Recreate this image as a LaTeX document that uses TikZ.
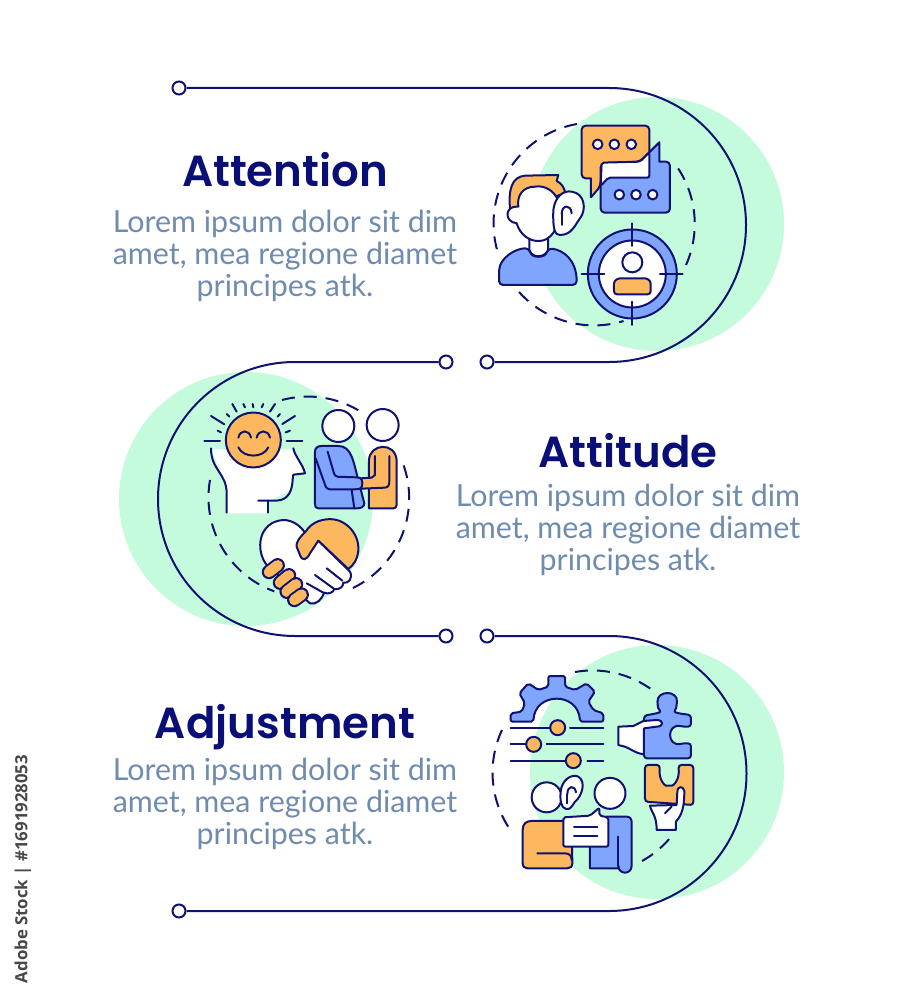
\documentclass[tikz,border=0pt]{standalone}
\usepackage{fontspec}
\setmainfont{Lato}
\newfontfamily\headfont{Poppins SemiBold}
\newfontfamily\stockfont{Open Sans}
\usetikzlibrary{calc}

\definecolor{navy}{HTML}{10126F}
\definecolor{headnavy}{HTML}{0A0F78}
\definecolor{mint}{HTML}{C4FBDD}
\definecolor{iconorange}{HTML}{FDB85F}
\definecolor{iconblue}{HTML}{7FA5FD}
\definecolor{bodygrey}{HTML}{6F8BAE}

\tikzset{
  heading/.style={font=\headfont\fontsize{43.5}{43.5}\selectfont,text=headnavy,anchor=base},
  bodytext/.style={font=\fontsize{30.4}{31.8}\selectfont,text=bodygrey,align=center,anchor=center},
  link/.style={draw=navy,line width=2pt},
  enddot/.style={circle,draw=navy,fill=white,line width=2pt,minimum size=13pt,inner sep=0pt},
  ring/.style={draw=navy,line width=2pt,dash pattern=on 13pt off 9pt},
  ico/.style={draw=navy,line width=2pt,line join=round,line cap=round},
  org/.style={ico,fill=iconorange},
  blu/.style={ico,fill=iconblue},
  wht/.style={ico,fill=white},
  zoomA/.style={shift={(480,110)},x=.3333pt,y=-.3333pt},
  zoomB/.style={shift={(195,390)},x=.3333pt,y=-.3333pt},
  zoomC/.style={shift={(490,665)},x=.3333pt,y=-.3333pt},
}

\begin{document}
\begin{tikzpicture}[x=1pt,y=-1pt]

\useasboundingbox (0,0) rectangle (914,1000);
\fill[white] (0,0) rectangle (914,1000);

% green discs
\fill[mint] (657,224) circle [radius=127pt];
\fill[mint] (246,499) circle [radius=127pt];
\fill[mint] (657,772) circle [radius=127pt];

% connector
\node[enddot] (start) at (179,88) {};
\node[enddot] (midA) at (446,362) {};
\node[enddot] (midB) at (487,362) {};
\node[enddot] (midC) at (446,636) {};
\node[enddot] (midD) at (487,636) {};
\node[enddot] (finish) at (179,911) {};
\coordinate (turnA) at (609,88);
\coordinate (turnB) at (295,362);
\coordinate (turnC) at (609,636);

\draw[link] (start.east) -- (turnA) arc [start angle=90,end angle=-90,radius=137pt] -- (midB.east);
\draw[link] (midA.west) -- (turnB) arc [start angle=90,end angle=270,radius=137pt] -- (midC.west);
\draw[link] (midD.east) -- (turnC) arc [start angle=90,end angle=-90,radius=137.5pt] -- (finish.east);

% texts
\node[heading] (titleA) at (285,187) {Attention};
\node[bodytext] (textA) at (285,256) {Lorem ipsum dolor sit dim\\amet, mea regione diamet\\principes atk.};
\node[heading] (titleB) at (628,467) {Attitude};
\node[bodytext] (textB) at (628,530) {Lorem ipsum dolor sit dim\\amet, mea regione diamet\\principes atk.};
\node[heading] (titleC) at (285,738) {Adjustment};
\node[bodytext] (textC) at (285,804) {Lorem ipsum dolor sit dim\\amet, mea regione diamet\\principes atk.};

\node[rotate=90,font=\stockfont\bfseries\fontsize{16.8}{16.8}\selectfont,text=black!72] (stock) at (23,869) {Adobe Stock | \#1691928053};

% dashed rings
\draw[ring] (577,124) arc [start angle=100,end angle=198,radius=101pt];
\draw[ring] (519,292) arc [start angle=222,end angle=287,radius=101pt];
\draw[ring] (686,265) arc [start angle=-24,end angle=36,radius=101pt];

\draw[ring] (282,400) arc [start angle=105,end angle=57,radius=100pt];
\draw[ring] (210,480) arc [start angle=170,end angle=250,radius=100pt];
\draw[ring] (353,588) arc [start angle=-64,end angle=20,radius=100pt];

\draw[ring] (575,672) arc [start angle=100,end angle=54,radius=101pt];
\draw[ring] (502,730) arc [start angle=155,end angle=214,radius=101pt];
\draw[ring] (642,861) arc [start angle=-61,end angle=-38,radius=101pt];

% listening and chat icon
\begin{scope}[zoomA]
\draw[org,rounded corners=4pt] (305,47) -- (508,47) -- (508,203) -- (362,203) -- (362,228) [sharp corners] -- (333,262) -- (333,205) [rounded corners=4pt] -- (305,205) -- cycle;
\draw[blu,rounded corners=4pt] (362,160) -- (480,155) [sharp corners] -- (538,97) -- (538,155) [rounded corners=4pt] -- (570,155) -- (570,308) -- (362,308) -- cycle;
\draw[wht,rounded corners=2pt] (365,158) -- (480,155) -- (508,127) -- (508,203) -- (385,203) -- (362,228) -- cycle;
\foreach \px in {353,403,454} \draw[wht] (\px,103) circle [radius=4.8pt];
\foreach \px in {418,468,518} \draw[wht] (\px,254) circle [radius=4.8pt];
\draw[org] (90,295) .. controls (85,240) and (95,200) .. (135,197) -- (235,195) -- (230,213) .. controls (245,220) and (255,235) .. (255,250) -- (100,300) -- cycle;
\draw[wht] (148,385) -- (148,420) .. controls (155,445) and (195,445) .. (204,420) -- (204,385) -- cycle;
\draw[blu,rounded corners=4pt] (57,525) -- (57,490) .. controls (60,445) and (105,415) .. (148,415) .. controls (155,445) and (195,445) .. (204,415) .. controls (250,420) and (290,450) .. (290,525) -- cycle;
\draw[wht] (115,290) .. controls (75,285) and (70,335) .. (110,340) .. controls (120,375) and (150,395) .. (178,393) .. controls (205,392) and (225,370) .. (232,340) -- (235,275) .. controls (225,240) and (190,225) .. (165,230) .. controls (130,230) and (110,255) .. (115,290) -- cycle;
\draw[wht] (220,300) .. controls (225,260) and (250,240) .. (275,245) .. controls (315,250) and (320,300) .. (300,325) .. controls (285,345) and (275,375) .. (240,375) .. controls (225,375) and (218,360) .. (220,300) -- cycle;
\draw[ico] (245,312) .. controls (245,285) and (272,280) .. (275,310);
\draw[ico] (245,345) -- (245,312);
\draw[blu] (457,492) circle [radius=44.5pt];
\draw[wht] (457,492) circle [radius=33.5pt];
\draw[ico] (457,340) -- (457,408);
\draw[ico] (457,575) -- (457,645);
\draw[ico] (305,492) -- (373,492);
\draw[ico] (540,492) -- (608,492);
\draw[wht] (457,457) circle [radius=10pt];
\draw[org,rounded corners=3pt] (402,553) -- (402,530) .. controls (402,510) and (415,505) .. (430,505) -- (485,505) .. controls (500,505) and (512,510) .. (512,530) -- (512,553) -- cycle;
\end{scope}

% mind and handshake icon
\begin{scope}[zoomB]
\fill[white] (50,178) -- (295,178) -- (330,250) -- (295,255) -- (290,300) -- (220,335) -- (220,370) -- (95,370) -- (95,300) -- cycle;
\draw[ico] (48,175) .. controls (48,240) and (95,250) .. (95,310) -- (95,368);
\draw[ico] (295,175) .. controls (300,200) and (325,225) .. (330,250) -- (295,254) .. controls (290,270) and (300,332) .. (240,332) -- (190,332);
\draw[ico] (220,332) -- (220,368);
\draw[org] (175,150) circle [radius=27.5pt];
\draw[ico] (130,143) .. controls (135,118) and (163,118) .. (168,143);
\draw[ico] (185,143) .. controls (190,118) and (220,118) .. (225,143);
\draw[ico] (130,172) .. controls (145,205) and (205,205) .. (220,172);
\foreach \ax/\ay/\bx/\by in {28/152/75/152,275/152/322/152,48/78/88/103,300/78/262/102,112/42/125/65,240/42/225/65,95/72/103/80,255/72/248/80,145/42/150/52,173/42/175/52,205/42/200/52,68/122/78/127,285/122/272/127}
  \draw[ico] (\ax,\ay) -- (\bx,\by);
\draw[wht] (430,108) circle [radius=16pt];
\draw[wht] (563,105) circle [radius=16pt];
\draw[org] (522,355) -- (522,210) .. controls (525,160) and (600,155) .. (605,210) -- (605,345) .. controls (605,352) and (600,355) .. (595,355) -- cycle;
\draw[blu] (370,355) .. controls (362,355) and (360,350) .. (360,342) -- (360,185) .. controls (360,172) and (370,168) .. (380,168) -- (430,168) .. controls (470,168) and (475,215) .. (490,270) -- (508,340) .. controls (508,350) and (498,355) .. (488,355) -- cycle;
\draw[ico] (470,300) -- (478,355);
\fill[iconorange] (495,265) rectangle (530,295);
\draw[ico] (498,265) -- (530,263) -- (540,255) -- (540,198);
\draw[ico] (500,296) -- (570,293) .. controls (580,292) and (583,285) .. (583,275) -- (583,198);
\draw[blu,rounded corners=3pt] (362,205) -- (395,298) -- (485,298) .. controls (505,295) and (505,265) .. (485,262) -- (420,260) -- (398,185);
\draw[wht] (215,525) .. controls (180,480) and (190,395) .. (265,390) .. controls (295,390) and (320,410) .. (332,432) -- (370,452) -- (465,545) .. controls (475,565) and (460,582) .. (445,578) .. controls (445,592) and (432,600) .. (418,597) .. controls (415,608) and (400,614) .. (388,608) .. controls (380,628) and (365,645) .. (345,640) -- cycle;
\draw[org] (332,425) .. controls (350,395) and (385,385) .. (415,388) .. controls (470,395) and (510,460) .. (480,515) .. controls (475,525) and (468,530) .. (460,537) -- (370,452) -- (345,490) .. controls (335,510) and (322,515) .. (315,495) -- (305,470) .. controls (303,460) and (310,445) .. (332,425) -- cycle;
\draw[ico] (395,535) -- (442,572);
\draw[ico] (360,555) -- (415,595);
\draw[ico] (335,580) -- (385,608);
\foreach \ax/\ay/\bx/\by in {222/546/248/526,255/578/282/556,275/605/303/583,298/630/320/614} {
  \draw[navy,line width=14.5pt,line cap=round] (\ax,\ay) -- (\bx,\by);
  \draw[iconorange,line width=10.5pt,line cap=round] (\ax,\ay) -- (\bx,\by);
}
\end{scope}

% adjustment icon
\begin{scope}[zoomC]
\draw[blu,rounded corners=2pt] (62,170) -- (62,145) -- (95,140) -- (105,115) -- (88,85) -- (115,55) -- (145,75) -- (175,65) -- (175,33) -- (225,33) -- (225,65) -- (255,75) -- (290,55) -- (315,80) -- (295,110) -- (310,135) -- (340,145) -- (340,170) -- (270,170) .. controls (265,80) and (135,80) .. (130,170) -- cycle;
\draw[ico] (62,188) -- (180,188);
\draw[ico] (240,188) -- (340,188);
\draw[ico] (62,238) -- (108,238);
\draw[ico] (170,238) -- (340,238);
\draw[ico] (62,287) -- (228,287);
\draw[ico] (292,287) -- (340,287);
\draw[org] (203,188) circle [radius=7.5pt];
\draw[org] (131,238) circle [radius=7.5pt];
\draw[org] (250,287) circle [radius=7.5pt];
\draw[blu,rounded corners=3pt] (462,280) -- (462,152) -- (500,145) .. controls (515,140) and (505,132) .. (503,120) .. controls (500,75) and (565,75) .. (560,120) .. controls (558,132) and (550,140) .. (565,145) -- (603,150) -- (603,185) -- (580,185) .. controls (530,175) and (530,245) .. (580,235) -- (603,235) -- (603,280) -- cycle;
\draw[wht] (385,185) -- (430,183) -- (460,168) -- (500,165) .. controls (522,165) and (522,185) .. (500,185) -- (462,190) -- (462,268) .. controls (435,265) and (420,250) .. (405,245) -- (385,240) -- cycle;
\draw[org,rounded corners=3pt] (465,300) -- (510,300) .. controls (505,345) and (525,362) .. (537,362) .. controls (550,362) and (570,345) .. (565,300) -- (610,300) -- (610,420) -- (465,410) -- cycle;
\draw[wht] (480,422) .. controls (485,445) and (500,450) .. (500,495) -- (558,495) -- (558,470) .. controls (575,450) and (583,430) .. (583,378) .. controls (580,360) and (560,365) .. (562,380) -- (560,420) -- cycle;
\draw[ico] (525,445) -- (545,425);
\draw[wht] (170,397) circle [radius=15pt];
\draw[wht] (360,385) circle [radius=15.5pt];
\draw[wht] (212,380) .. controls (215,345) and (245,325) .. (265,335) .. controls (290,350) and (275,395) .. (255,410) .. controls (245,425) and (240,435) .. (228,432) .. controls (212,428) and (210,405) .. (212,380) -- cycle;
\draw[ico] (232,388) .. controls (232,360) and (255,360) .. (258,382);
\draw[ico] (232,415) -- (232,388);
\draw[blu] (300,610) -- (300,520) -- (350,455) -- (410,455) .. controls (420,455) and (425,462) .. (425,472) -- (425,602) .. controls (425,630) and (385,630) .. (385,602) -- (385,610) -- cycle;
\draw[ico] (385,602) -- (385,515);
\draw[org] (98,595) -- (98,495) .. controls (98,475) and (110,468) .. (125,468) -- (245,468) -- (247,595) .. controls (247,605) and (240,610) .. (232,610) -- (112,610) .. controls (105,610) and (98,605) .. (98,595) -- cycle;
\draw[ico] (142,565) -- (225,565) .. controls (240,565) and (245,575) .. (245,585);
\draw[wht,rounded corners=2pt] (220,457) -- (300,452) -- (328,428) -- (328,452) -- (355,457) -- (355,545) -- (220,545) -- cycle;
\draw[ico] (252,487) -- (322,487);
\draw[ico] (252,512) -- (322,512);
\end{scope}

\end{tikzpicture}
\end{document}
